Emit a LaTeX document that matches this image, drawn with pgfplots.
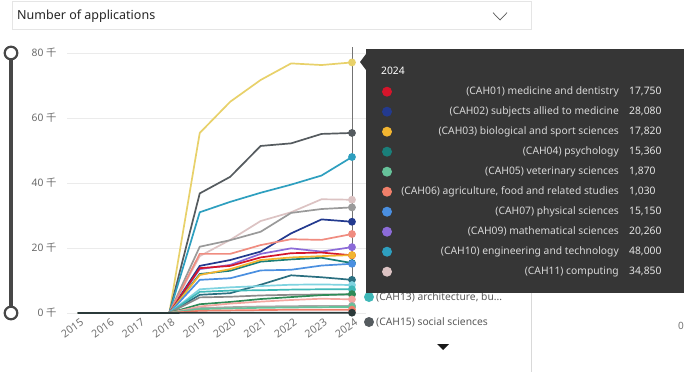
\documentclass[border=0pt]{standalone}
\usepackage{pgfplots}
\pgfplotsset{compat=1.18}
\usepackage{fontspec}
\setmainfont{Noto Sans}
\newfontfamily\cjk{Noto Sans CJK SC}
\definecolor{cYel}{HTML}{E8D16A}
\definecolor{cDkg}{HTML}{555B5F}
\definecolor{cTeal}{HTML}{2E9FBF}
\definecolor{cPale}{HTML}{DCC3C3}
\definecolor{cGray}{HTML}{9A9A9A}
\definecolor{cNavy}{HTML}{233A8F}
\definecolor{cSal}{HTML}{F08C80}
\definecolor{cPur}{HTML}{8C6BD8}
\definecolor{cRed}{HTML}{D5152B}
\definecolor{cOra}{HTML}{F2B530}
\definecolor{cPsy}{HTML}{1A7F7A}
\definecolor{cBlue}{HTML}{4A8FE0}
\definecolor{cDTeal}{HTML}{2A6F80}
\definecolor{cCyan}{HTML}{7FD3E0}
\definecolor{cTurq}{HTML}{3FB8B8}
\definecolor{cGray2}{HTML}{8A8A8A}
\definecolor{cGreen}{HTML}{2E8B57}
\definecolor{cPink}{HTML}{F4A6A0}
\definecolor{cGray3}{HTML}{A8A8A8}
\definecolor{cMint}{HTML}{66C29A}
\definecolor{cAgri}{HTML}{F07F6A}
\definecolor{cDark}{HTML}{2B3A3A}
\definecolor{tipbg}{HTML}{363636}
\begin{document}
\begin{tikzpicture}[x=1pt,y=1pt]
\path[fill=white] (0,0) rectangle (684,376);
% dropdown
\draw[draw=black!10,fill=white] (12,347) rectangle (531,375);
\node[anchor=west,inner sep=0pt,text=black!85,font=\fontsize{12.5}{14}\selectfont] at (17,360) {Number of applications};
\draw[black!65,line width=0.7pt] (493,363.3) -- (500,356) -- (507,363.3);
% slider
\draw[color=black!72,line width=3.5pt] (11,323) -- (11,63);
\draw[color=black!72,line width=2.2pt,fill=white] (11,323) circle (6.3);
\draw[color=black!72,line width=2.2pt,fill=white] (11,63) circle (6.3);
\begin{axis}[
  at={(67pt,63pt)}, anchor=south west,
  scale only axis, width=299pt, height=260pt,
  xmin=2014.64, xmax=2024.46, ymin=0, ymax=80,
  clip=false,
  axis line style={draw=none},
  major tick length=0pt,
  ymajorgrids, grid style={color=black!8, line width=0.6pt},
  ytick={0,20,40,60,80},
  yticklabels={0 {\cjk 千},20 {\cjk 千},40 {\cjk 千},60 {\cjk 千},80 {\cjk 千}},
  yticklabel style={font=\fontsize{10.3}{12}\selectfont, text=black!58, anchor=east, xshift=-7pt},
  xtick={2015,2016,2017,2018,2019,2020,2021,2022,2023,2024},
  xticklabels={2015,2016,2017,2018,2019,2020,2021,2022,2023,2024},
  xticklabel style={font=\fontsize{10.6}{12}\selectfont, text=black!55, rotate=35, anchor=north east, inner sep=1pt, yshift=-4pt},
  every axis plot/.append style={line width=1.7pt, mark=*, mark size=3pt, mark indices={10}},
]
\draw[black!55,line width=0.8pt] (axis cs:2024,0) -- (axis cs:2024,81.8);
\addplot[cYel] coordinates {(2015,0)(2016,0)(2017,0)(2018,0)(2019,55.4)(2020,65.0)(2021,71.7)(2022,76.8)(2023,76.3)(2024,77.1)};
\addplot[cDkg] coordinates {(2015,0)(2016,0)(2017,0)(2018,0)(2019,36.8)(2020,41.9)(2021,51.4)(2022,52.2)(2023,55.1)(2024,55.4)};
\addplot[cTeal] coordinates {(2015,0)(2016,0)(2017,0)(2018,0)(2019,31.0)(2020,34.2)(2021,37.0)(2022,39.5)(2023,42.3)(2024,48.0)};
\addplot[cPale] coordinates {(2015,0)(2016,0)(2017,0)(2018,0)(2019,17.5)(2020,22.5)(2021,28.3)(2022,31.0)(2023,35.0)(2024,34.85)};
\addplot[cGray] coordinates {(2015,0)(2016,0)(2017,0)(2018,0)(2019,20.4)(2020,22.4)(2021,25.0)(2022,30.8)(2023,32.0)(2024,32.5)};
\addplot[cNavy] coordinates {(2015,0)(2016,0)(2017,0)(2018,0)(2019,14.5)(2020,16.3)(2021,18.9)(2022,24.5)(2023,28.8)(2024,28.08)};
\addplot[cSal] coordinates {(2015,0)(2016,0)(2017,0)(2018,0)(2019,18.2)(2020,18.2)(2021,20.9)(2022,22.7)(2023,22.5)(2024,24.3)};
\addplot[cPur] coordinates {(2015,0)(2016,0)(2017,0)(2018,0)(2019,13.5)(2020,14.8)(2021,18.2)(2022,19.9)(2023,18.9)(2024,20.26)};
\addplot[cRed] coordinates {(2015,0)(2016,0)(2017,0)(2018,0)(2019,13.8)(2020,14.5)(2021,17.1)(2022,18.4)(2023,18.6)(2024,17.75)};
\addplot[cPsy] coordinates {(2015,0)(2016,0)(2017,0)(2018,0)(2019,12.0)(2020,13.0)(2021,15.8)(2022,16.5)(2023,17.0)(2024,15.36)};
\addplot[cOra] coordinates {(2015,0)(2016,0)(2017,0)(2018,0)(2019,11.7)(2020,13.5)(2021,16.3)(2022,17.1)(2023,17.5)(2024,17.82)};
\addplot[cBlue] coordinates {(2015,0)(2016,0)(2017,0)(2018,0)(2019,10.2)(2020,10.7)(2021,13.1)(2022,13.3)(2023,14.6)(2024,15.15)};
\addplot[cDTeal] coordinates {(2015,0)(2016,0)(2017,0)(2018,0)(2019,5.6)(2020,6.1)(2021,8.7)(2022,11.6)(2023,11.0)(2024,10.2)};
\addplot[cCyan] coordinates {(2015,0)(2016,0)(2017,0)(2018,0)(2019,7.3)(2020,7.9)(2021,8.3)(2022,8.7)(2023,8.8)(2024,8.6)};
\addplot[cTurq] coordinates {(2015,0)(2016,0)(2017,0)(2018,0)(2019,6.5)(2020,6.9)(2021,7.0)(2022,7.2)(2023,7.3)(2024,7.3)};
\addplot[cGray2] coordinates {(2015,0)(2016,0)(2017,0)(2018,0)(2019,4.8)(2020,5.0)(2021,5.4)(2022,5.6)(2023,5.7)(2024,5.7)};
\addplot[cGreen] coordinates {(2015,0)(2016,0)(2017,0)(2018,0)(2019,2.7)(2020,3.4)(2021,4.3)(2022,4.9)(2023,5.5)(2024,5.8)};
\addplot[cPink] coordinates {(2015,0)(2016,0)(2017,0)(2018,0)(2019,2.0)(2020,2.9)(2021,3.5)(2022,4.0)(2023,4.4)(2024,4.2)};
\addplot[cGray3] coordinates {(2015,0)(2016,0)(2017,0)(2018,0)(2019,1.5)(2020,1.8)(2021,2.0)(2022,2.1)(2023,2.2)(2024,2.2)};
\addplot[cMint] coordinates {(2015,0)(2016,0)(2017,0)(2018,0)(2019,1.2)(2020,1.4)(2021,1.6)(2022,1.7)(2023,1.8)(2024,1.87)};
\addplot[cAgri] coordinates {(2015,0)(2016,0)(2017,0)(2018,0)(2019,0.7)(2020,0.8)(2021,0.9)(2022,1.0)(2023,1.0)(2024,1.03)};
\addplot[cDark] coordinates {(2015,0)(2016,0)(2017,0)(2018,0)(2019,0.1)(2020,0.1)(2021,0.1)(2022,0.1)(2023,0.1)(2024,0.1)};
\end{axis}
% legend below (partly under tooltip)
\fill[cTurq] (369,79) circle (5);
\node[anchor=west,inner sep=0pt,text=black!65,font=\fontsize{10.3}{12}\selectfont] at (376,79) {(CAH13) architecture, bu...};
\fill[cDkg] (369,54) circle (5);
\node[anchor=west,inner sep=0pt,text=black!65,font=\fontsize{10.3}{12}\selectfont] at (376,54) {(CAH15) social sciences};
\fill[black!90] (437,32) -- (449,32) -- (443,26) -- cycle;
\draw[black!15,line width=0.8pt] (531,83) -- (531,4);
\node[anchor=east,inner sep=0pt,text=black!55,font=\fontsize{10}{12}\selectfont] at (684,50) {0};
% tooltip
\fill[tipbg] (366,83) rectangle (684,327);
\fill[tipbg] (366,322) -- (360,314) -- (366,306) -- cycle;
\node[anchor=west,inner sep=0pt,text=white,font=\fontsize{10.3}{12}\selectfont\bfseries] at (381,305) {2024};
\foreach \c/\t/\v [count=\i from 0] in {
  cRed/{(CAH01) medicine and dentistry}/{17,750},
  cNavy/{(CAH02) subjects allied to medicine}/{28,080},
  cOra/{(CAH03) biological and sport sciences}/{17,820},
  cPsy/{(CAH04) psychology}/{15,360},
  cMint/{(CAH05) veterinary sciences}/{1,870},
  cAgri/{(CAH06) agriculture, food and related studies}/{1,030},
  cBlue/{(CAH07) physical sciences}/{15,150},
  cPur/{(CAH09) mathematical sciences}/{20,260},
  cTeal/{(CAH10) engineering and technology}/{48,000},
  cPale/{(CAH11) computing}/{34,850}} {
  \fill[\c] (387,284.3-20*\i) circle (5);
  \node[anchor=east,inner sep=0pt,text=white!85!black,font=\fontsize{10.3}{12}\selectfont] at (619,284.3-20*\i) {\t};
  \node[anchor=west,inner sep=0pt,text=white!90!black,font=\fontsize{10.3}{12}\selectfont] at (629,284.3-20*\i) {\v};
}
\end{tikzpicture}
\end{document}
